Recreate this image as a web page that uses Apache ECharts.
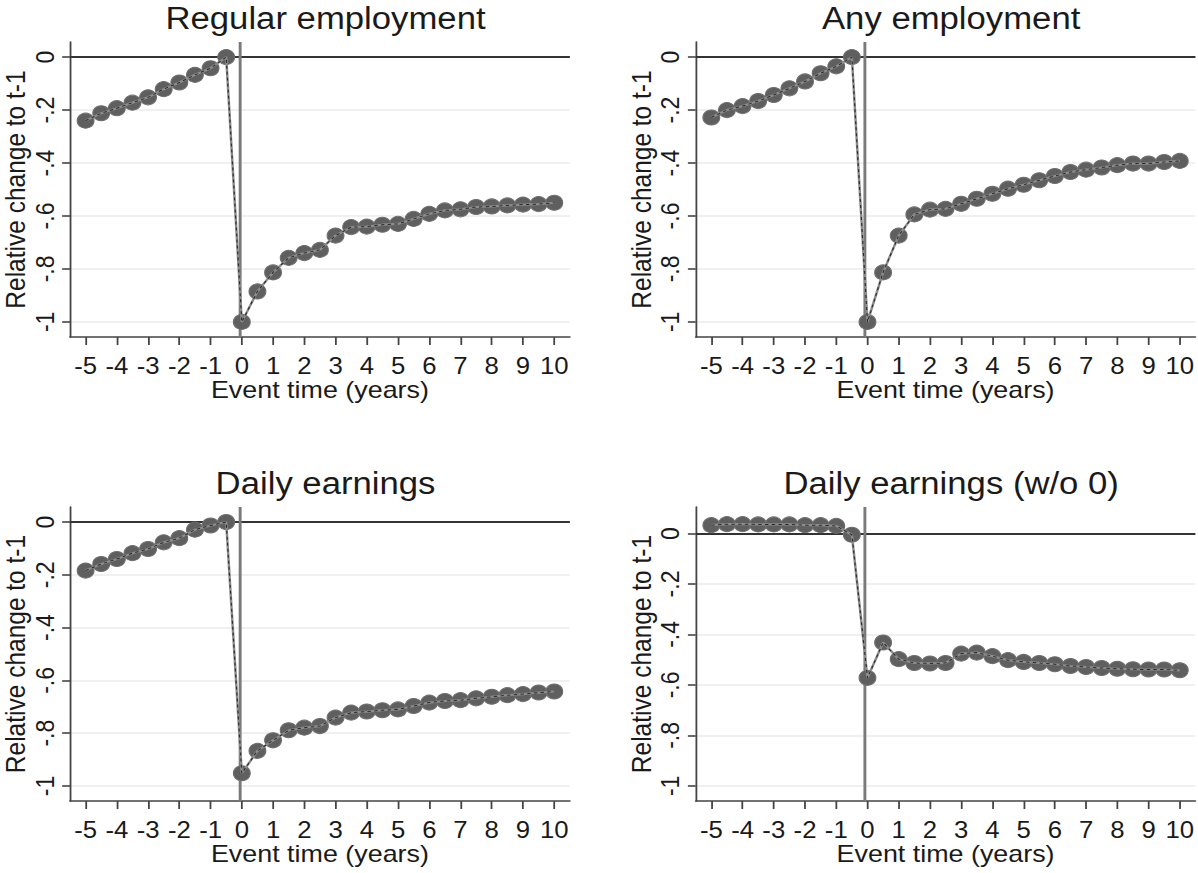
<!DOCTYPE html>
<html>
<head>
<meta charset="utf-8">
<script src="https://cdn.jsdelivr.net/npm/echarts@6/dist/echarts.min.js"></script>
<style>
html,body{margin:0;padding:0;background:#fff;overflow:hidden;}
#wrap{width:1198px;height:873px;overflow:hidden;position:relative;}
#chart{width:1070px;height:873px;transform:scaleX(1.1196);transform-origin:0 0;}
</style>
</head>
<body>
<div id="wrap"><div id="chart"></div></div>
<script>
// ---- data ----
const eventTime = [-5,-4.5,-4,-3.5,-3,-2.5,-2,-1.5,-1,-0.5,0,0.5,1,1.5,2,2.5,3,3.5,4,4.5,5,5.5,6,6.5,7,7.5,8,8.5,9,9.5,10];
const regularEmployment = [-0.240,-0.212,-0.193,-0.172,-0.152,-0.121,-0.096,-0.067,-0.042,0.000,
  -1.000,-0.885,-0.813,-0.758,-0.740,-0.728,-0.674,-0.642,-0.640,-0.633,-0.630,-0.611,-0.592,-0.579,-0.575,-0.566,-0.564,-0.560,-0.557,-0.555,-0.550];
const anyEmployment = [-0.228,-0.200,-0.185,-0.166,-0.143,-0.118,-0.092,-0.061,-0.035,0.000,
  -1.000,-0.813,-0.674,-0.594,-0.576,-0.573,-0.554,-0.535,-0.516,-0.497,-0.482,-0.465,-0.449,-0.434,-0.425,-0.417,-0.408,-0.402,-0.402,-0.396,-0.392];
const dailyEarnings = [-0.184,-0.159,-0.140,-0.118,-0.102,-0.077,-0.061,-0.029,-0.013,0.000,
  -0.952,-0.867,-0.827,-0.789,-0.779,-0.773,-0.741,-0.722,-0.718,-0.713,-0.710,-0.697,-0.684,-0.678,-0.675,-0.668,-0.662,-0.656,-0.652,-0.646,-0.642];
const dailyEarningsNo0 = [0.033,0.037,0.037,0.036,0.036,0.036,0.033,0.033,0.030,-0.005,
  -0.572,-0.432,-0.498,-0.513,-0.515,-0.513,-0.476,-0.472,-0.486,-0.502,-0.509,-0.513,-0.518,-0.525,-0.529,-0.533,-0.536,-0.538,-0.539,-0.539,-0.542];

const panelTitles = ['Regular employment','Any employment','Daily earnings','Daily earnings (w/o 0)'];
const panelSeries = [regularEmployment, anyEmployment, dailyEarnings, dailyEarningsNo0];
const xTicks = [-5,-4,-3,-2,-1,0,1,2,3,4,5,6,7,8,9,10];
const yTicks = [0,-0.2,-0.4,-0.6,-0.8,-1];
const yTickLabels = ['0','-.2','-.4','-.6','-.8','-1'];
const xRange = [-5.5, 10.5];
const yRanges = [[-1.057,0.057],[-1.057,0.057],[-1.057,0.057],[-1.06,0.105]];
const zeroLineY = 0;
const eventLineX = -0.08;
const xTitle = 'Event time (years)';
const yTitle = 'Relative change to t-1';

// ---- layout / style ----
const FONT = "'Liberation Sans', Arial, sans-serif";
const TXT = '#1a1a1a';
const grids = [
  {left: 62.5, top: 42, width: 446.5, height: 295},
  {left: 621.4, top: 42, width: 446.3, height: 295},
  {left: 62.5, top: 507, width: 446.5, height: 294},
  {left: 621.4, top: 507, width: 446.3, height: 294}
];
const titleTops = [-2, -2, 463, 463];

const chart = echarts.init(document.getElementById('chart'), null, {renderer: 'svg'});

const option = {
  backgroundColor: '#ffffff',
  animation: false,
  title: panelTitles.map((t, i) => ({
    text: t,
    left: grids[i].left + grids[i].width / 2,
    top: titleTops[i],
    textAlign: 'center',
    textStyle: {fontFamily: FONT, fontSize: 31, fontWeight: 'normal', color: TXT}
  })),
  grid: grids.map(g => Object.assign({containLabel: false}, g)),
  xAxis: grids.map((g, i) => ({
    type: 'value',
    gridIndex: i,
    min: xRange[0],
    max: xRange[1],
    name: xTitle,
    nameLocation: 'middle',
    nameGap: 40,
    nameTextStyle: {fontFamily: FONT, fontSize: 24, color: TXT},
    axisLine: {show: true, onZero: false, lineStyle: {color: '#444', width: 1.6}},
    axisTick: {show: true, length: 8, customValues: xTicks, lineStyle: {color: '#444', width: 1.6}},
    axisLabel: {show: true, customValues: xTicks, margin: 17, fontFamily: FONT, fontSize: 23, color: TXT,
      formatter: v => String(v)},
    splitLine: {show: false}
  })),
  yAxis: grids.map((g, i) => ({
    type: 'value',
    gridIndex: i,
    min: yRanges[i][0],
    max: yRanges[i][1],
    name: yTitle,
    nameLocation: 'middle',
    nameRotate: 90,
    nameGap: 36,
    nameTextStyle: {fontFamily: FONT, fontSize: 24.5, color: TXT},
    axisLine: {show: true, onZero: false, lineStyle: {color: '#444', width: 1.6}},
    axisTick: {show: true, length: 7, customValues: yTicks, lineStyle: {color: '#444', width: 1.6}},
    axisLabel: {show: true, customValues: yTicks, rotate: 90, margin: 11, fontFamily: FONT, fontSize: 23, color: TXT,
      formatter: v => {
        const k = yTicks.findIndex(t => Math.abs(t - v) < 1e-6);
        return k >= 0 ? yTickLabels[k] : '';
      }},
    splitLine: {show: true, lineStyle: {color: '#ebebeb', width: 1.6}}
  })),
  series: []
};

panelSeries.forEach((vals, i) => {
  const pts = eventTime.map((x, k) => [x, vals[k]]);
  // markers
  option.series.push({
    type: 'line',
    xAxisIndex: i, yAxisIndex: i,
    data: pts,
    symbol: 'circle',
    symbolSize: 15,
    lineStyle: {opacity: 0},
    itemStyle: {color: '#5f5f5f', borderColor: '#6e6e6e', borderWidth: 1},
    z: 3,
    silent: true,
    markLine: {
      silent: true,
      symbol: ['none','none'],
      label: {show: false},
      z: 2,
      data: [
        {yAxis: zeroLineY, lineStyle: {color: '#333', width: 1.8, type: 'solid'}},
        {xAxis: eventLineX, lineStyle: {color: '#7a7a7a', width: 2.6, type: 'solid'}}
      ]
    }
  });
  // light solid connecting line
  option.series.push({
    type: 'line',
    xAxisIndex: i, yAxisIndex: i,
    data: pts,
    showSymbol: false,
    symbol: 'none',
    lineStyle: {color: '#8c8c8c', width: 2.2},
    z: 4,
    silent: true
  });
  // dark dashed line
  option.series.push({
    type: 'line',
    xAxisIndex: i, yAxisIndex: i,
    data: pts,
    showSymbol: false,
    symbol: 'none',
    lineStyle: {color: '#2a2a2a', width: 1, type: [3, 3]},
    z: 5,
    silent: true
  });
});

chart.setOption(option);
</script>
</body>
</html>
